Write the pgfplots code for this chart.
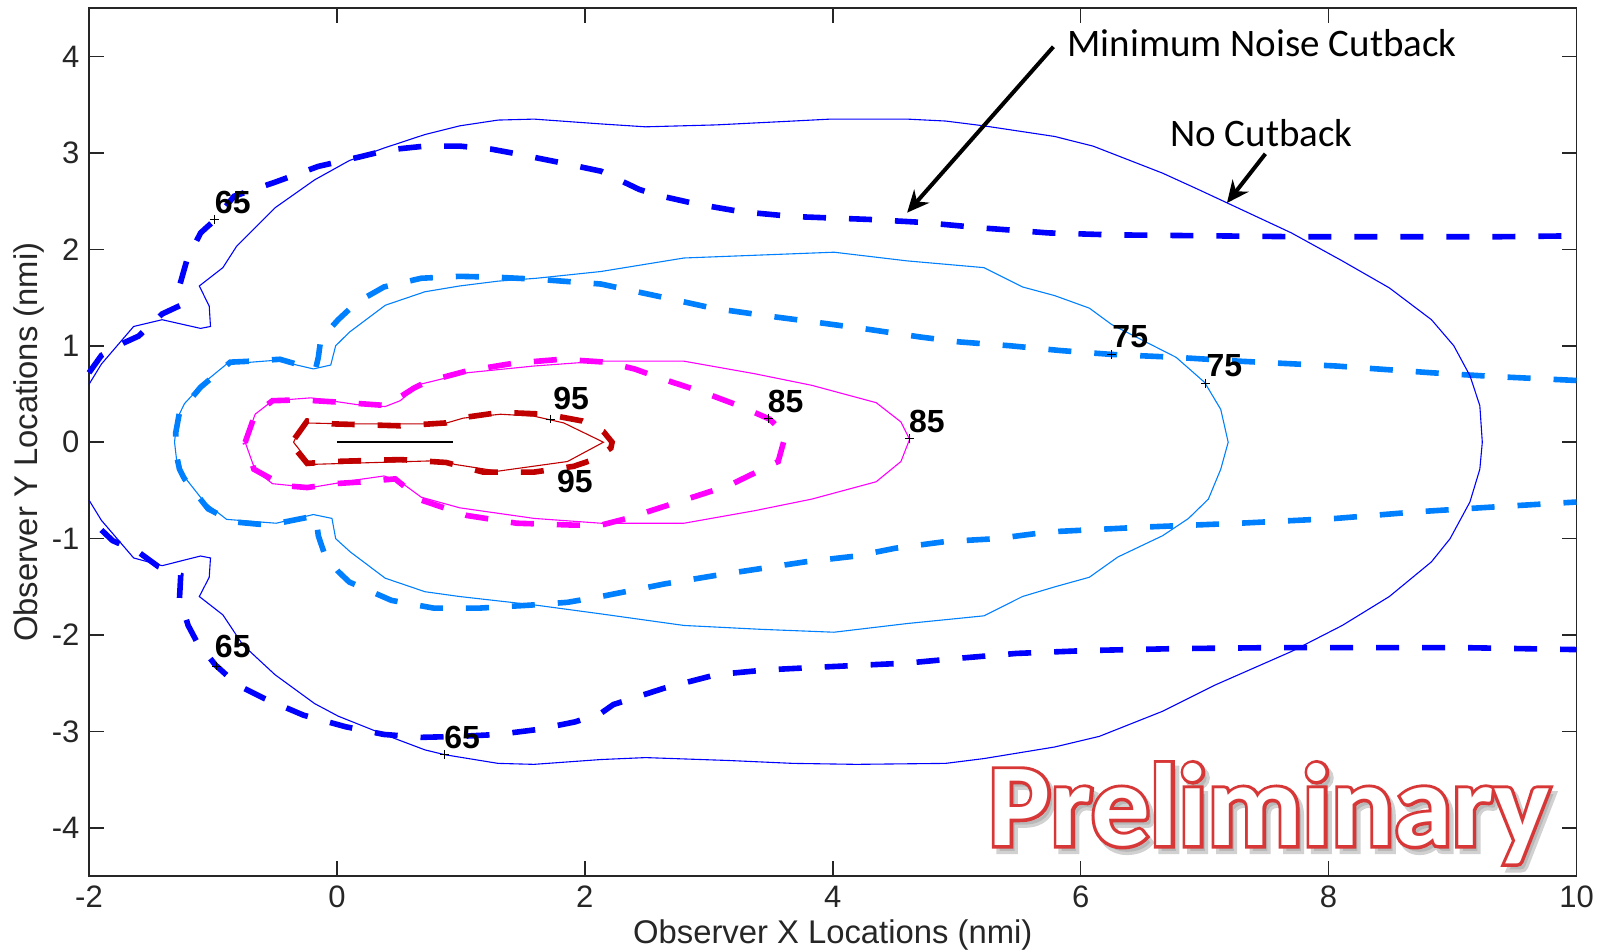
\documentclass[border=0pt]{standalone}
\usepackage{pgfplots}
\pgfplotsset{compat=1.18}
\usepackage{fontspec}
\setmainfont{Liberation Sans}
\newfontfamily\calibri{Carlito}
\newfontfamily\prelfill{Carlito}[UprightFont=*-Bold]
\newfontfamily\prelout{Carlito}[UprightFont=*-Bold, AutoFakeBold=0, UprightFeatures={FakeBold=5.5}]
\usetikzlibrary{arrows.meta}
\definecolor{c65}{RGB}{0,0,255}
\definecolor{c75}{RGB}{0,128,255}
\definecolor{c85}{RGB}{255,0,255}
\definecolor{c95}{RGB}{192,0,0}
\definecolor{axgray}{RGB}{38,38,38}
\definecolor{prelred}{RGB}{215,55,55}
\begin{document}
\begin{tikzpicture}
\begin{axis}[
  scale only axis, width=743.7pt, height=434pt,
  xmin=-2, xmax=10, ymin=-4.5, ymax=4.5,
  xtick={-2,0,...,10}, ytick={-4,-3,...,4},
  tick align=inside, major tick length=7.5pt,
  axis line style={axgray, line width=0.8pt},
  every tick/.style={axgray, line width=0.8pt},
  tick label style={font=\fontsize{15.5}{17}\selectfont, text=axgray},
  xticklabel style={yshift=-1.5pt},
  yticklabel style={xshift=-1.3pt},
  /pgf/number format/assume math mode=true,
  xlabel={Observer X Locations (nmi)},
  ylabel={Observer Y Locations (nmi)},
  label style={font=\fontsize{16.4}{19}\selectfont, text=axgray},
  xlabel style={at={(axis description cs:0.5,-0.0675)}, anchor=center},
  ylabel style={at={(axis description cs:-0.0403,0.5)}, anchor=center},
  clip=false,
  dashedline/.style={line width=2.8pt, dash pattern=on 11.5pt off 11.5pt},
  solidline/.style={line width=0.55pt},
]
% ---- Minimum noise cutback (dashed) ----
\addplot[c65, dashedline] coordinates {
(-2.0,0.72) (-1.90,0.90) (-1.72,1.03) (-1.60,1.10) (-1.41,1.33) (-1.26,1.42)
(-1.27,1.62) (-1.21,1.89) (-1.10,2.17) (-0.98,2.31) (-0.83,2.55) (-0.49,2.70)
(-0.15,2.86) (0.19,2.96) (0.41,3.03) (0.71,3.07) (0.99,3.07) (1.24,3.04)
(1.45,2.99) (1.76,2.91) (2.13,2.81) (2.44,2.62) (2.59,2.56) (2.90,2.47)
(3.26,2.39) (3.68,2.34) (4.29,2.31) (4.71,2.28) (5.22,2.22) (5.74,2.17)
(6.25,2.15) (7.03,2.14) (7.80,2.13) (8.57,2.13) (9.35,2.13) (10.0,2.14)};
\addplot[c65, dashedline] coordinates {
(-1.90,-0.91) (-1.81,-1.02) (-1.60,-1.14) (-1.44,-1.29) (-1.26,-1.38)
(-1.27,-1.62) (-1.20,-1.90) (-1.13,-2.07) (-0.98,-2.31) (-0.80,-2.52)
(-0.58,-2.66) (-0.27,-2.83) (0.07,-2.95) (0.38,-3.03) (0.68,-3.06)
(0.99,-3.05) (1.30,-3.03) (1.61,-2.98) (1.92,-2.90) (2.13,-2.81)
(2.23,-2.72) (2.64,-2.55) (3.06,-2.41) (3.47,-2.36) (3.93,-2.33)
(4.60,-2.29) (5.02,-2.24) (5.48,-2.19) (6.05,-2.16) (6.77,-2.14)
(7.54,-2.13) (8.31,-2.13) (9.09,-2.13) (10.0,-2.15)};
\addplot[c75, dashedline] coordinates {
(10.0,0.64) (9.35,0.68) (8.83,0.72) (8.06,0.79) (7.28,0.84) (6.77,0.88)
(6.25,0.91) (5.84,0.95) (5.43,1.00) (5.02,1.04) (4.71,1.09) (4.29,1.17)
(3.83,1.25) (3.47,1.31) (3.03,1.39) (2.64,1.50) (2.13,1.64) (1.61,1.69)
(1.30,1.71) (0.99,1.72) (0.68,1.70) (0.38,1.61) (0.16,1.45) (0.01,1.27)
(-0.13,1.07) (-0.15,0.88) (-0.17,0.77) (-0.30,0.80) (-0.46,0.86) (-0.70,0.84)
(-0.86,0.83) (-1.10,0.57) (-1.27,0.31) (-1.30,0.10) (-1.30,-0.10) (-1.27,-0.28)
(-1.23,-0.38) (-1.04,-0.69) (-0.89,-0.79) (-0.80,-0.83) (-0.55,-0.86)
(-0.24,-0.78) (-0.17,-0.77) (-0.15,-0.97) (-0.10,-1.16) (0.01,-1.34)
(0.10,-1.45) (0.44,-1.64) (0.78,-1.72) (1.15,-1.72) (1.55,-1.69) (1.86,-1.66)
(2.13,-1.60) (2.64,-1.47) (3.06,-1.38) (3.42,-1.31) (3.78,-1.24)
(4.19,-1.18) (4.50,-1.10) (4.91,-1.03) (5.32,-1.00) (5.74,-0.93) (6.51,-0.88)
(7.28,-0.84) (8.06,-0.79) (8.73,-0.72) (9.35,-0.67) (10.0,-0.62)};
\addplot[c85, dashedline] coordinates {
(-0.74,0.0) (-0.66,0.29) (-0.52,0.43) (-0.30,0.44) (0.08,0.41) (0.40,0.38)
(0.62,0.56) (0.73,0.63) (1.05,0.74) (1.43,0.82) (1.81,0.86) (2.17,0.83)
(2.40,0.76) (2.64,0.65) (2.95,0.52) (3.24,0.38) (3.49,0.24) (3.62,0.08)
(3.56,-0.20) (3.16,-0.45) (2.75,-0.62) (2.34,-0.79) (2.13,-0.86) (1.92,-0.86)
(1.45,-0.84) (1.05,-0.76) (0.68,-0.60) (0.47,-0.38) (0.22,-0.41) (-0.02,-0.43)
(-0.24,-0.47) (-0.43,-0.45) (-0.67,-0.28) (-0.74,0.0)};
\addplot[c95, dashedline] coordinates {
(-0.34,0.04) (-0.24,0.22) (-0.03,0.19) (0.51,0.17) (0.88,0.20) (0.99,0.25)
(1.32,0.31) (1.69,0.29) (1.98,0.22) (2.15,0.11) (2.22,0.0) (2.21,-0.06)
(2.07,-0.18) (1.91,-0.25) (1.59,-0.31) (1.18,-0.31) (0.88,-0.21) (0.51,-0.18)
(-0.03,-0.20) (-0.24,-0.22) (-0.33,-0.08) (-0.34,0.04)};
% ---- No cutback (solid) ----
\addplot[c65, solidline] coordinates {
(-2.0,0.60) (-1.90,0.81) (-1.64,1.20) (-1.41,1.27) (-1.10,1.18) (-1.02,1.20)
(-1.03,1.41) (-1.11,1.62) (-0.92,1.81) (-0.81,2.03) (-0.50,2.43) (-0.18,2.72)
(0.10,2.92) (0.38,3.05) (0.71,3.19) (0.99,3.28) (1.30,3.34) (1.59,3.35)
(2.13,3.30) (2.49,3.27) (3.06,3.29) (3.68,3.33) (3.98,3.35) (4.60,3.35)
(4.91,3.33) (5.22,3.28) (5.79,3.17) (6.10,3.07) (6.66,2.79) (6.95,2.62)
(7.70,2.17) (8.11,1.88) (8.49,1.60) (8.83,1.27) (9.01,1.00) (9.14,0.69)
(9.22,0.38) (9.24,0.0) (9.22,-0.28) (9.14,-0.62) (8.98,-1.00) (8.83,-1.24)
(8.49,-1.60) (8.11,-1.90) (7.70,-2.17) (7.08,-2.52) (6.66,-2.79) (6.15,-3.05)
(5.79,-3.16) (5.22,-3.28) (4.91,-3.33) (4.19,-3.34) (3.68,-3.33) (3.16,-3.30)
(2.49,-3.27) (2.13,-3.29) (1.59,-3.34) (1.30,-3.33) (0.87,-3.24) (0.71,-3.19)
(0.38,-3.03) (0.01,-2.84) (-0.18,-2.71) (-0.50,-2.41) (-0.76,-2.10)
(-0.92,-1.79) (-1.11,-1.60) (-1.03,-1.40) (-1.02,-1.20) (-1.10,-1.18)
(-1.41,-1.28) (-1.64,-1.20) (-1.90,-0.81) (-2.0,-0.60)};
\addplot[c75, solidline] coordinates {
(-1.31,0.0) (-1.29,0.24) (-1.23,0.40) (-1.07,0.62) (-0.89,0.81) (-0.49,0.85)
(-0.19,0.76) (-0.05,0.80) (-0.01,1.00) (0.10,1.14) (0.39,1.42) (0.71,1.56)
(0.99,1.62) (1.30,1.67) (1.61,1.70) (2.13,1.77) (2.80,1.91) (4.01,1.97)
(4.60,1.88) (5.22,1.81) (5.53,1.61) (5.79,1.52) (6.07,1.39) (6.25,1.22)
(6.54,1.03) (6.77,0.88) (7.00,0.62) (7.13,0.34) (7.19,0.0) (7.13,-0.28)
(7.03,-0.59) (6.87,-0.79) (6.66,-0.97) (6.30,-1.19) (6.07,-1.40) (5.79,-1.50)
(5.53,-1.60) (5.22,-1.80) (4.60,-1.88) (4.01,-1.97) (3.42,-1.94) (2.80,-1.90)
(2.13,-1.78) (1.61,-1.69) (0.99,-1.60) (0.71,-1.55) (0.39,-1.41) (0.11,-1.14)
(-0.01,-1.00) (-0.04,-0.79) (-0.19,-0.75) (-0.49,-0.84) (-0.89,-0.80)
(-1.07,-0.62) (-1.23,-0.36) (-1.29,-0.22) (-1.31,0.0)};
\addplot[c85, solidline] coordinates {
(-0.74,0.0) (-0.66,0.29) (-0.52,0.43) (-0.21,0.46) (0.16,0.39) (0.39,0.37)
(0.51,0.43) (0.67,0.60) (1.05,0.72) (1.59,0.79) (2.12,0.84) (2.80,0.84)
(3.37,0.71) (3.83,0.59) (4.35,0.41) (4.55,0.21) (4.62,0.03) (4.55,-0.20)
(4.35,-0.41) (3.83,-0.59) (3.37,-0.71) (2.80,-0.84) (2.13,-0.84) (1.59,-0.79)
(0.99,-0.68) (0.68,-0.57) (0.50,-0.40) (0.38,-0.35) (0.16,-0.39) (-0.21,-0.47)
(-0.52,-0.43) (-0.66,-0.29) (-0.74,0.0)};
\addplot[c95, solidline] coordinates {
(-0.35,0.0) (-0.27,0.20) (0.08,0.19) (0.86,0.19) (1.02,0.25) (1.32,0.29)
(1.59,0.27) (1.83,0.20) (2.15,0.0) (1.86,-0.20) (1.30,-0.30) (0.95,-0.23)
(0.86,-0.19) (-0.21,-0.23) (-0.35,0.0)};
% runway
\addplot[black, line width=1.1pt] coordinates {(0,0) (0.94,0)};
% label marks
\addplot[black, only marks, mark=+, mark size=2.2pt, mark options={line width=0.4pt}] coordinates {
(-0.99,2.31) (-0.97,-2.32) (0.87,-3.24) (6.25,0.91) (7.01,0.61) (3.48,0.25) (4.62,0.04) (1.72,0.24)};
% contour labels
\begin{scope}[every node/.style={font=\bfseries\fontsize{16}{18}\selectfont, text=black, inner sep=0pt}]
\node at (axis cs:-0.84,2.49) {65};
\node at (axis cs:-0.84,-2.12) {65};
\node at (axis cs:1.01,-3.06) {65};
\node at (axis cs:6.40,1.09) {75};
\node at (axis cs:7.16,0.79) {75};
\node at (axis cs:3.62,0.42) {85};
\node at (axis cs:4.76,0.22) {85};
\node at (axis cs:1.89,0.455) {95};
\node at (axis cs:1.92,-0.41) {95};
\end{scope}
% annotations
\draw[black, line width=2pt, -{Stealth[length=11pt,width=10pt]}] (axis cs:5.78,4.10) -- (axis cs:4.60,2.38);
\draw[black, line width=2pt, -{Stealth[length=11pt,width=10pt]}] (axis cs:7.49,2.99) -- (axis cs:7.18,2.48);
\node[anchor=west, inner sep=0pt, font=\calibri\fontsize{19.5}{22}\selectfont] at (axis cs:5.89,4.14) {Minimum Noise Cutback};
\node[anchor=west, inner sep=0pt, font=\calibri\fontsize{19.5}{22}\selectfont] at (axis cs:6.72,3.21) {No Cutback};
\coordinate (prelim) at (axis cs:7.52,-4.18);
\coordinate (bbsw) at (rel axis cs:0,0);
\coordinate (bbne) at (rel axis cs:1,1);
\end{axis}
% Preliminary watermark: outline by stroked (fake-bold) copy, white fill on top
\node[anchor=base, inner sep=0pt, font=\prelout\fontsize{58.5}{62}\selectfont, text=black!40, opacity=0.45] at ([xshift=2.2pt, yshift=-2.8pt]prelim) {Preliminary};
\node[anchor=base, inner sep=0pt, font=\prelout\fontsize{58.5}{62}\selectfont, text=prelred] at (prelim) {Preliminary};
\node[anchor=base, inner sep=0pt, font=\prelfill\fontsize{58.5}{62}\selectfont, text=white] at (prelim) {Preliminary};
\pgfresetboundingbox
\path ([shift={(-44.5pt,-37.5pt)}]bbsw) rectangle ([shift={(13.75pt,4.1pt)}]bbne);
\end{tikzpicture}
\end{document}
